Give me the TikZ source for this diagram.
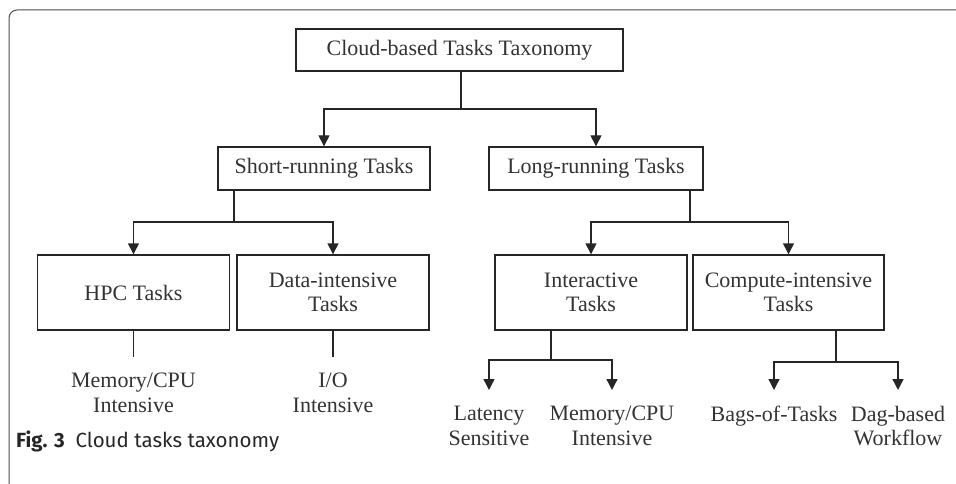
\documentclass[tikz,border=0pt]{standalone}
\usepackage{fontspec}
\setmainfont{Liberation Serif}
\newfontfamily\capfont{Fira Sans}
\usetikzlibrary{arrows.meta}
\tikzset{
  taskbox/.style={draw=black!85,line width=1.4pt,align=center,inner sep=0pt},
  leaf/.style={align=center,inner xsep=0pt,inner ysep=16pt,anchor=north},
  link/.style={draw=black!85,line width=1.4pt},
  down/.style={link,-{Triangle[width=11pt,length=11pt]}}
}
\begin{document}
\begin{tikzpicture}[x=1pt,y=-1pt,font=\fontsize{22}{24.5}\selectfont,text=black!80]
\useasboundingbox (0,0) rectangle (956,484);
% frame
\draw[black!70,line width=1pt,rounded corners=8pt](9,484)|-(956,10);
% boxes
\node[taskbox,minimum width=327pt,minimum height=42pt](root) at(459.5,50){Cloud-based Tasks Taxonomy};
\node[taskbox,minimum width=212pt,minimum height=43pt](short) at(324,168.5){Short-running Tasks};
\node[taskbox,minimum width=214pt,minimum height=43pt](long) at(596,168.5){Long-running Tasks};
\node[taskbox,minimum width=192pt,minimum height=75pt](hpc) at(133.5,292.5){HPC Tasks};
\node[taskbox,minimum width=192pt,minimum height=75pt](data) at(333,292.5){Data-intensive\\Tasks};
\node[taskbox,minimum width=192pt,minimum height=75pt](inter) at(591,292.5){Interactive\\Tasks};
\node[taskbox,minimum width=191pt,minimum height=75pt](comp) at(788.5,292.5){Compute-intensive\\Tasks};
% leaves
\node[leaf](mem1) at(133.5,357){Memory/CPU\\Intensive};
\node[leaf](io) at(333,357){I/O\\Intensive};
\node[leaf](lat) at(489,390){Latency\\Sensitive};
\node[leaf](mem2) at(612,390){Memory/CPU\\Intensive};
\node[leaf](bag) at(774,390){Bags-of-Tasks};
\node[leaf](dag) at(898,390){Dag-based\\Workflow};
% junctions
\coordinate(rj) at(461,109);
\coordinate(sj) at(234,222);
\coordinate(lj) at(690,222);
\coordinate(ij) at(551,360);
\coordinate(cj) at(836,362);
% connectors
\draw[link](root.south-|rj)--(rj);
\draw[down](rj)-|(short.north);
\draw[down](rj)-|(long.north);
\draw[link](short.south-|sj)--(sj);
\draw[down](sj)-|(hpc.north);
\draw[down](sj)-|(data.north);
\draw[link](long.south-|lj)--(lj);
\draw[down](lj)-|(inter.north);
\draw[down](lj)-|(comp.north);
\draw[link](hpc.south)--(mem1.north);
\draw[link](data.south)--(io.north);
\draw[link](inter.south-|ij)--(ij);
\draw[down](ij)-|(lat.north);
\draw[down](ij)-|(mem2.north);
\draw[link](comp.south-|cj)--(cj);
\draw[down](cj)-|(bag.north);
\draw[down](cj)-|(dag.north);
% caption
\node[anchor=base west,inner sep=0pt,font=\capfont\fontsize{20.5}{24}\selectfont,text=black!85](cap) at(16,447){\textbf{Fig. 3}\ \ Cloud tasks taxonomy};
\end{tikzpicture}
\end{document}
